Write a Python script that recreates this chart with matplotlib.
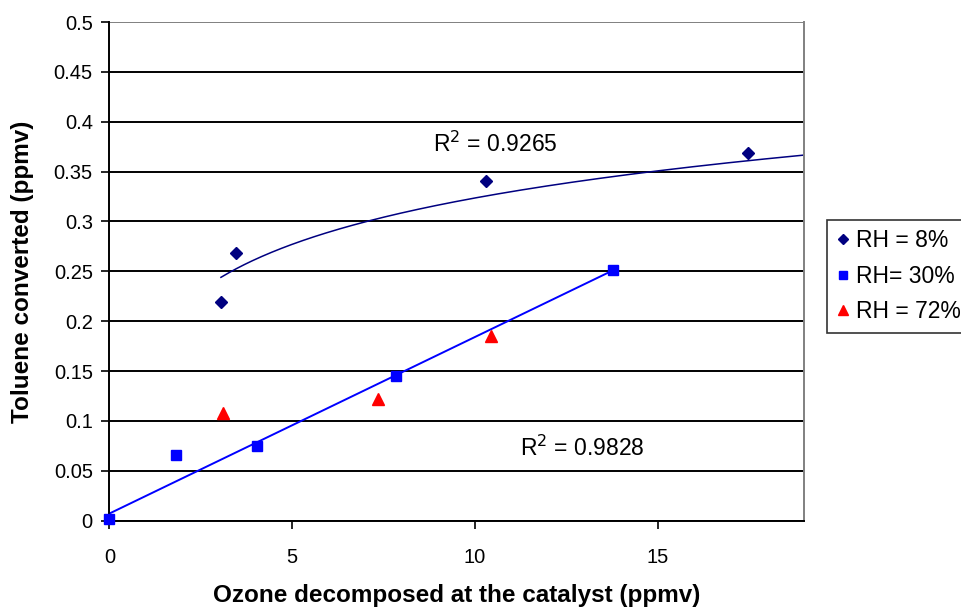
import numpy as np
import matplotlib
matplotlib.use("Agg")
import matplotlib.pyplot as plt

plt.rcParams['font.family'] = ['Liberation Sans', 'DejaVu Sans']

# Measured data: ozone decomposed (ppmv) vs toluene converted (ppmv)
ozone_rh8 = [3.05, 3.46, 10.31, 17.47]
toluene_rh8 = [0.219, 0.268, 0.341, 0.369]

ozone_rh30 = [0.0, 1.83, 4.05, 7.85, 13.77]
toluene_rh30 = [0.002, 0.066, 0.075, 0.145, 0.251]

ozone_rh72 = [3.11, 7.36, 10.43]
toluene_rh72 = [0.108, 0.122, 0.185]

# Trendline coefficients
log_fit_rh8 = (0.1693, 0.0670)      # y = a + b ln(x)
lin_fit_rh30 = (0.0072, 0.0177)     # y = a + b x
r2_rh8 = "0.9265"
r2_rh30 = "0.9828"

labels = ["RH = 8%", "RH= 30%", "RH = 72%"]
x_ticks = [0, 5, 10, 15]
y_ticks = [0, 0.05, 0.1, 0.15, 0.2, 0.25, 0.3, 0.35, 0.4, 0.45, 0.5]
x_max = 19

fig = plt.figure(figsize=(9.61, 6.10), dpi=100)
ax = fig.add_axes([0.1139, 0.1464, 0.8366 - 0.1139, 0.9639 - 0.1464])

# horizontal gridlines
for v in y_ticks[:-1]:
    ax.axhline(v, color='black', lw=1.4, zorder=1)
ax.axhline(y_ticks[-1], color='#808080', lw=1.4, zorder=1)

# trendlines
xl = np.linspace(min(ozone_rh8), x_max, 300)
ax.plot(xl, log_fit_rh8[0] + log_fit_rh8[1] * np.log(xl), color='#000080', lw=1.1, zorder=2)
xs = np.array([min(ozone_rh30), max(ozone_rh30)])
ax.plot(xs, lin_fit_rh30[0] + lin_fit_rh30[1] * xs, color='#0000FF', lw=1.4, zorder=2)

# data points
h1, = ax.plot(ozone_rh8, toluene_rh8, linestyle='none', marker='D', ms=6.2,
              color='#000080', label=labels[0], zorder=3, clip_on=False)
h2, = ax.plot(ozone_rh30, toluene_rh30, linestyle='none', marker='s', ms=7.2,
              color='#0000FF', label=labels[1], zorder=3, clip_on=False)
h3, = ax.plot(ozone_rh72, toluene_rh72, linestyle='none', marker='^', ms=8.5,
              color='#FF0000', label=labels[2], zorder=3, clip_on=False)

ax.text(8.85, 0.377, r"R$^2$ = " + r2_rh8, fontsize=16.5, va='center', ha='left')
ax.text(11.22, 0.0727, r"R$^2$ = " + r2_rh30, fontsize=16.5, va='center', ha='left')

ax.set_xlim(0, x_max)
ax.set_ylim(0, 0.5)
ax.set_xticks(x_ticks)
ax.set_xticklabels([str(v) for v in x_ticks])
ax.set_yticks(y_ticks)
ax.set_yticklabels([f"{v:g}" for v in y_ticks])
ax.tick_params(axis='both', labelsize=14.5, direction='out', length=6, width=1.2, color='black')
ax.tick_params(axis='x', pad=14)
ax.tick_params(axis='y', pad=6)

for side in ['left', 'bottom']:
    ax.spines[side].set_color('black')
    ax.spines[side].set_linewidth(1.4)
ax.spines['right'].set_color('#808080')
ax.spines['right'].set_linewidth(1.4)
ax.spines['top'].set_visible(False)

ax.set_xlabel("Ozone decomposed at the catalyst (ppmv)", fontsize=17.5, fontweight='bold')
ax.set_ylabel("Toluene converted (ppmv)", fontsize=17.5, fontweight='bold')
ax.xaxis.set_label_coords(0.5, -0.151)
ax.xaxis.label.set_verticalalignment('center')
ax.yaxis.set_label_coords(-0.1245, 0.5)
ax.yaxis.label.set_verticalalignment('center')

leg = fig.legend(handles=[h1, h2, h3], loc='upper left',
                 bbox_to_anchor=(826.7 / 961, 1 - 220 / 610), fontsize=16.5,
                 frameon=True, fancybox=False, edgecolor='black',
                 handlelength=0.6, handletextpad=0.3, borderpad=0.4,
                 labelspacing=0.55, markerscale=0.8, borderaxespad=0)
leg.get_frame().set_linewidth(1.2)

fig.savefig("out.png", dpi=100, facecolor='white')
